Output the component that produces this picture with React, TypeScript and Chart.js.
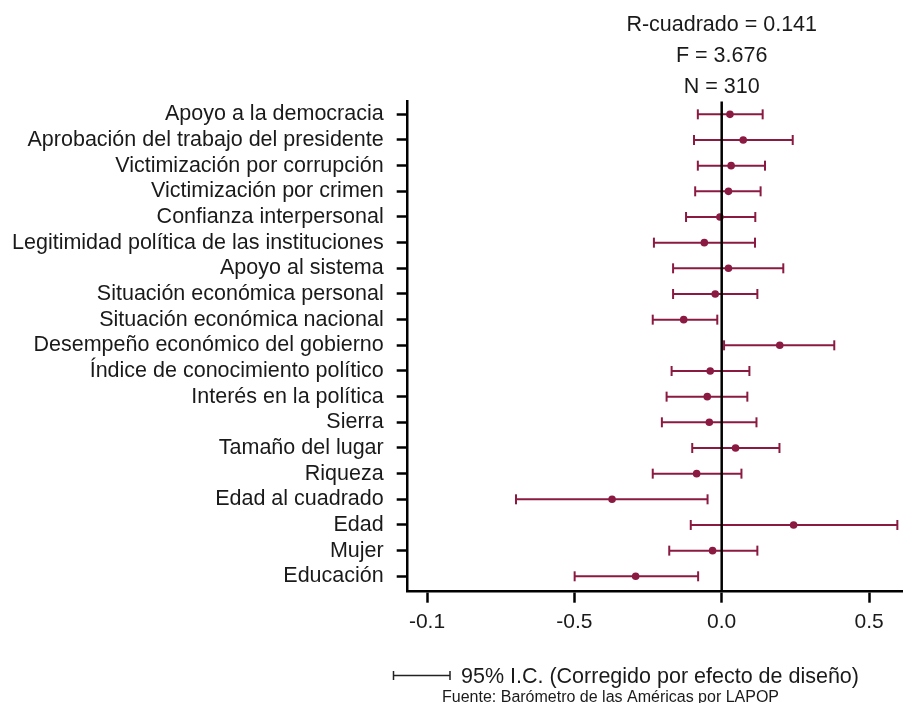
import React, { useEffect, useRef } from "react";
import { Chart, registerables } from "chart.js";

Chart.register(...registerables);

const categories = [
  "Apoyo a la democracia",
  "Aprobación del trabajo del presidente",
  "Victimización por corrupción",
  "Victimización por crimen",
  "Confianza interpersonal",
  "Legitimidad política de las instituciones",
  "Apoyo al sistema",
  "Situación económica personal",
  "Situación económica nacional",
  "Desempeño económico del gobierno",
  "Índice de conocimiento político",
  "Interés en la política",
  "Sierra",
  "Tamaño del lugar",
  "Riqueza",
  "Edad al cuadrado",
  "Edad",
  "Mujer",
  "Educación",
];

const coefs = [0.028, 0.073, 0.032, 0.023, -0.006, -0.059, 0.023, -0.022, -0.129, 0.197, -0.039, -0.049, -0.042, 0.047, -0.085, -0.372, 0.244, -0.031, -0.292];
const lower = [-0.081, -0.094, -0.081, -0.09, -0.121, -0.23, -0.165, -0.165, -0.234, 0.008, -0.17, -0.187, -0.203, -0.1, -0.234, -0.698, -0.105, -0.178, -0.499];
const upper = [0.139, 0.241, 0.147, 0.132, 0.114, 0.113, 0.209, 0.121, -0.015, 0.382, 0.094, 0.087, 0.118, 0.196, 0.067, -0.048, 0.596, 0.121, -0.08];

const xTickValues = [-1, -0.5, 0, 0.5];
const xTickLabels = ["-0.1", "-0.5", "0.0", "0.5"];

const headerLines = ["R-cuadrado = 0.141", "F = 3.676", "N = 310"];
const legendText = "95% I.C. (Corregido por efecto de diseño)";
const sourceText = "Fuente: Barómetro de las Américas por LAPOP";

const COLOR = "#8b1a42";
const TEXT = "#1a1a1a";
const FONT = "Liberation Sans";

export default function App() {
  const ref = useRef<HTMLCanvasElement>(null);

  useEffect(() => {
    const canvas = ref.current;
    if (!canvas) return;

    const overlay = {
      id: "overlay",
      afterDatasetsDraw(chart: any) {
        const { ctx, chartArea } = chart;
        const xs = chart.scales.x;
        const x0 = xs.getPixelForValue(0);
        ctx.save();
        ctx.strokeStyle = "#000";
        ctx.lineWidth = 2.5;
        ctx.beginPath();
        ctx.moveTo(x0, chartArea.top);
        ctx.lineTo(x0, chartArea.bottom);
        ctx.stroke();
        ctx.restore();
      },
      afterDraw(chart: any) {
        const { ctx } = chart;
        const xs = chart.scales.x;
        const x0 = xs.getPixelForValue(0);
        ctx.save();
        ctx.fillStyle = TEXT;
        ctx.font = `21.5px "${FONT}"`;
        ctx.textAlign = "center";
        ctx.textBaseline = "alphabetic";
        const baselines = [31, 62, 92.5];
        headerLines.forEach((t, i) => ctx.fillText(t, x0, baselines[i]));

        // legend for CI
        const ly = 675.5;
        ctx.strokeStyle = "#222";
        ctx.lineWidth = 1.5;
        ctx.beginPath();
        ctx.moveTo(393.5, ly);
        ctx.lineTo(450, ly);
        ctx.moveTo(393.5, ly - 4.5);
        ctx.lineTo(393.5, ly + 4.5);
        ctx.moveTo(450, ly - 4.5);
        ctx.lineTo(450, ly + 4.5);
        ctx.stroke();
        ctx.textAlign = "left";
        ctx.font = `21.5px "${FONT}"`;
        ctx.fillText(legendText, 461, 683);
        ctx.font = `16px "${FONT}"`;
        ctx.fillText(sourceText, 442, 702);
        ctx.restore();
      },
    };

    const errorSets = categories.map((_, i) => ({
      type: "line" as const,
      data: [
        { x: lower[i], y: i },
        { x: upper[i], y: i },
      ],
      borderColor: COLOR,
      borderWidth: 2,
      pointStyle: "line" as const,
      pointRotation: 90,
      pointRadius: 5,
      pointHoverRadius: 5,
      pointBorderColor: COLOR,
      pointBorderWidth: 2,
      fill: false,
      clip: false,
    }));

    const chart = new Chart(canvas, {
      type: "scatter",
      data: {
        datasets: [
          {
            type: "scatter" as const,
            data: coefs.map((c, i) => ({ x: c, y: i })),
            pointRadius: 3.8,
            pointHoverRadius: 3.8,
            backgroundColor: COLOR,
            borderColor: COLOR,
            borderWidth: 0,
          },
          ...errorSets,
        ] as any,
      },
      options: {
        animation: false,
        responsive: false,
        devicePixelRatio: 1,
        events: [],
        layout: { autoPadding: false, padding: { top: 101.5, left: 0, right: 0, bottom: 0 } },
        plugins: {
          legend: { display: false },
          tooltip: { enabled: false },
          title: { display: false },
        },
        scales: {
          x: {
            type: "linear",
            position: "bottom",
            min: -1.0655,
            max: 0.6152,
            afterBuildTicks: (scale: any) => {
              scale.ticks = xTickValues.map((v) => ({ value: v }));
            },
            afterFit: (scale: any) => {
              scale.height = 111.3;
            },
            ticks: {
              callback: (_v: any, i: number) => xTickLabels[i],
              font: { family: FONT, size: 21 },
              color: TEXT,
              padding: 7,
              maxRotation: 0,
              autoSkip: false,
            },
            grid: {
              drawOnChartArea: false,
              drawTicks: true,
              tickLength: 11,
              tickWidth: 2.5,
              tickColor: "#000",
            },
            border: { display: true, color: "#000", width: 2.5 },
          },
          y: {
            type: "linear",
            position: "left",
            reverse: true,
            min: -0.5,
            max: 18.6,
            afterBuildTicks: (scale: any) => {
              scale.ticks = categories.map((_, i) => ({ value: i }));
            },
            afterFit: (scale: any) => {
              scale.width = 407.7;
            },
            ticks: {
              callback: (v: any) => categories[v as number],
              font: { family: FONT, size: 21.5, lineHeight: 1 },
              color: TEXT,
              padding: 13,
              autoSkip: false,
            },
            grid: {
              drawOnChartArea: false,
              drawTicks: true,
              tickLength: 11,
              tickWidth: 2.5,
              tickColor: "#000",
            },
            border: { display: true, color: "#000", width: 2.5 },
          },
        },
      },
      plugins: [overlay],
    });

    return () => chart.destroy();
  }, []);

  return (
    <div style={{ position: "absolute", left: 0, top: 0, width: 903, height: 703, background: "#fff" }}>
      <canvas ref={ref} width={903} height={703} style={{ display: "block" }} />
    </div>
  );
}
